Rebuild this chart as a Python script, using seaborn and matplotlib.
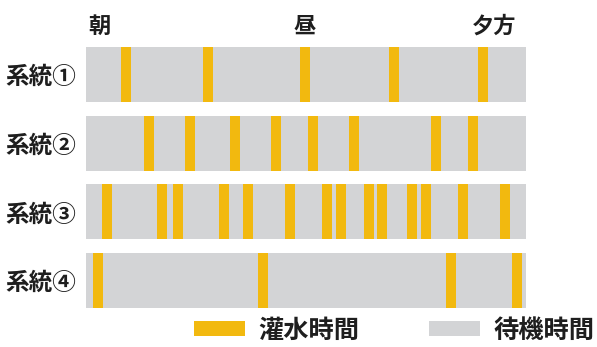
import matplotlib
matplotlib.use("Agg")
import matplotlib.pyplot as plt
import seaborn as sns
import pandas as pd
from matplotlib.patches import Patch

sns.set_theme(style="white")
plt.rcParams['font.family'] = ['Noto Sans CJK JP', 'DejaVu Sans']

# ---- data ----
systems = ["系統①", "系統②", "系統③", "系統④"]
total_length = [440, 440, 440, 440]
water_starts_1 = [35, 117, 214, 303, 392]
water_starts_2 = [58, 99, 144, 185, 222, 263, 345, 382]
water_starts_3 = [16, 71, 87, 133, 157, 199, 236, 250, 278, 291, 321, 335, 372, 414]
water_starts_4 = [7, 172, 360, 426]
water_width = 9.5
time_labels = ["朝", "昼", "夕方"]
time_label_pos = [13, 219, 408]
legend_labels = ["灌水時間", "待機時間"]

YELLOW = "#F2B90F"
GRAY = "#D3D4D6"
TEXT = "#1E1E1E"

fig = plt.figure(figsize=(5.97, 3.47), dpi=100)
ax = fig.add_axes([86/597, 1-315/347, 440/597, 275/347])

bg = pd.DataFrame({"system": systems, "length": total_length})
sns.barplot(data=bg, y="system", x="length", color=GRAY, width=0.8,
            orient="h", ax=ax, saturation=1, edgecolor="none")

all_starts = [water_starts_1, water_starts_2, water_starts_3, water_starts_4]
for i, starts in enumerate(all_starts):
    ax.barh([i]*len(starts), [water_width]*len(starts), left=starts,
            height=0.8, color=YELLOW, edgecolor="none")

ax.set_xlim(0, 440)
ax.set_ylim(3.5, -0.5)
ax.set_xlabel("")
ax.set_ylabel("")
ax.set_xticks([])
ax.tick_params(axis="y", length=0, pad=7)
for lab in ax.get_yticklabels():
    lab.set_fontsize(17)
    lab.set_fontweight("bold")
    lab.set_color(TEXT)
for s in ax.spines.values():
    s.set_visible(False)

for lab, x in zip(time_labels, time_label_pos):
    ax.text(x, -0.7, lab, ha="center", va="center",
            fontsize=16, fontweight="bold", color=TEXT, clip_on=False)

handles = [Patch(facecolor=YELLOW, edgecolor="none"),
           Patch(facecolor=GRAY, edgecolor="none")]
leg = fig.legend(handles, legend_labels, ncol=2, frameon=False,
                 loc="center right", bbox_to_anchor=(594/597, 1-330/347),
                 prop={"size": 18.2, "weight": "bold"},
                 handlelength=2.05, handleheight=0.55, handletextpad=0.5,
                 columnspacing=2.75, borderpad=0, borderaxespad=0)
for t in leg.get_texts():
    t.set_color(TEXT)

fig.savefig("out.png", dpi=100, facecolor="white")
